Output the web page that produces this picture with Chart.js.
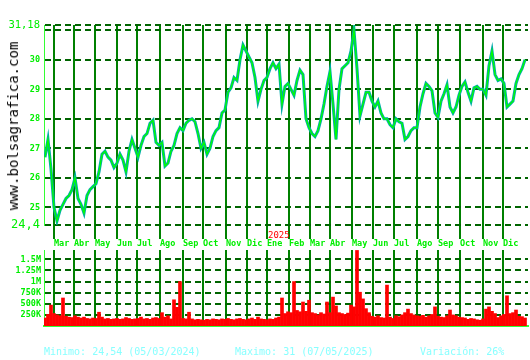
<!DOCTYPE html>
<html>
<head>
<meta charset="utf-8">
<script src="https://cdn.jsdelivr.net/npm/chart.js@4/dist/chart.umd.min.js"></script>
<style>
body { margin:0; background:#fff; width:530px; height:360px; position:relative; overflow:hidden; }
canvas { position:absolute; left:0; }
#price { top:0; }
#volume { top:240px; }
.web { position:absolute; left:13px; top:126px; transform:translate(-50%,-50%) rotate(-90deg); font:14px 'DejaVu Sans Mono', monospace; white-space:nowrap; color:#000; }
.stat { position:absolute; top:346px; font:10px 'DejaVu Sans Mono', monospace; color:#88ffff; white-space:pre; }
</style>
</head>
<body>
<canvas id="price" width="530" height="250"></canvas>
<canvas id="volume" width="530" height="100"></canvas>
<div class="web">www.bolsagrafica.com</div>
<div class="stat" style="left:44px">Minimo: 24,54 (05/03/2024)</div>
<div class="stat" style="left:235px">Maximo: 31 (07/05/2025)</div>
<div class="stat" style="left:420px">Variación: 26%</div>
<script>
// data: one sample every 3 trading days, starting mid Feb 2024
const step = 3

const closes = [
  26.7, 27.3, 26.3, 25.0, 24.54, 24.9, 25.1, 25.3, 25.4, 25.6,
  26.0, 25.3, 25.1, 24.8, 25.4, 25.6, 25.7, 25.8, 26.2, 26.8,
  26.9, 26.7, 26.6, 26.35, 26.5, 26.8, 26.6, 26.2, 26.9, 27.3,
  27.0, 26.7, 27.1, 27.4, 27.5, 27.85, 27.95, 27.2, 27.1, 27.2,
  26.4, 26.5, 26.9, 27.1, 27.5, 27.7, 27.6, 27.85, 27.95, 28.0,
  27.9, 27.5, 27.0, 27.2, 26.8, 27.0, 27.4, 27.6, 27.7, 28.2,
  28.3, 28.9, 29.05, 29.4, 29.3, 30.0, 30.5, 30.3, 30.1, 29.9,
  29.4, 28.6, 29.0, 29.3, 29.4, 29.7, 29.9, 29.7, 29.85, 28.5,
  29.1, 29.2, 29.0, 28.8, 29.3, 29.65, 29.5, 28.0, 27.7, 27.5,
  27.4, 27.6, 28.0, 28.5, 29.1, 29.6, 28.5, 27.3, 29.0, 29.7,
  29.8, 29.9, 30.3, 31.0, 29.7, 28.1, 28.5, 28.9, 28.9, 28.6,
  28.4, 28.6, 28.2, 28.0, 28.0, 27.8, 27.7, 28.0, 27.9, 27.85,
  27.3, 27.4, 27.6, 27.7, 27.7, 28.4, 28.85, 29.2, 29.1, 28.95,
  28.2, 28.05, 28.6, 28.85, 29.15, 28.4, 28.2, 28.4, 28.8, 29.1,
  29.25, 28.9, 28.6, 29.05, 29.1, 29.0, 29.0, 28.8, 29.8, 30.3,
  29.5, 29.3, 29.35, 29.2, 28.4, 28.5, 28.6, 29.2, 29.5, 29.7,
  30.0
]

// volume in thousands
const volumes = [
  180, 260, 470, 280, 250, 230, 630, 220, 200, 190,
  230, 200, 180, 200, 170, 160, 180, 170, 310, 200,
  160, 170, 150, 160, 170, 150, 160, 190, 170, 150,
  160, 170, 200, 160, 170, 150, 180, 190, 170, 300,
  200, 230, 160, 590, 420, 1000, 170, 160, 310, 160,
  140, 150, 140, 130, 150, 140, 160, 150, 140, 160,
  150, 170, 150, 140, 160, 170, 150, 140, 160, 180,
  150, 200, 160, 150, 140, 160, 150, 180, 200, 630,
  280, 320, 300, 1000, 350, 320, 540, 330, 580, 300,
  280, 250, 300, 270, 540, 300, 650, 450, 300, 280,
  260, 290, 470, 430, 1700, 760, 610, 390, 300, 220,
  200, 230, 190, 180, 920, 200, 170, 230, 210, 250,
  300, 380, 280, 250, 230, 220, 240, 200, 230, 260,
  430, 220, 200, 190, 230, 360, 250, 230, 200, 190,
  180, 150, 170, 160, 140, 130, 160, 380, 430, 330,
  280, 190, 230, 260, 680, 280, 300, 360, 220, 210,
  180
]

// trading day index where each month starts
const monthStartDay = [9, 29, 50, 72, 92, 115, 138, 158, 181, 202, 222, 244, 265, 285, 307, 328, 349, 372, 393, 415, 438, 458]
const monthLabels = ['Mar','Abr','May','Jun','Jul','Ago','Sep','Oct','Nov','Dic','Ene','Feb','Mar','Abr','May','Jun','Jul','Ago','Sep','Oct','Nov','Dic']
const yearMark = { month: 10, text: '2025' }

const priceTicks = [24.4, 25, 26, 27, 28, 29, 30, 31, 31.18]
const priceMin = 24.4
const priceMax = 31.18

const volTicks = [250, 500, 750, 1000, 1250, 1500]
const volTickLabels = ['250K', '500K', '750K', '1M', '1.25M', '1.5M']
const volMax = 1710

// styles
const dashGreen = '#006400'
const monthGreen = '#008000'
const labelGreen = '#00ee00'
const axisGreen = '#33ff33'
const mono = 'DejaVu Sans Mono'

const closePts = closes.map((v, i) => ({ x: i * step, y: v }))
const volPts = volumes.map((v, i) => ({ x: i * step, y: v }))
const dayMin = -1
const dayMax = 483

const monthAxis = {
  type: 'linear', min: dayMin, max: dayMax, offset: false,
  afterBuildTicks: s => { s.ticks = monthStartDay.map(v => ({ value: v })) },
}

const yearPlugin = {
  id: 'year',
  afterDraw(chart) {
    const x = chart.scales.x.getPixelForValue(monthStartDay[yearMark.month])
    const ctx = chart.ctx
    ctx.save()
    ctx.fillStyle = '#ff0000'
    ctx.font = '9px ' + mono
    ctx.textBaseline = 'middle'
    ctx.fillText(yearMark.text, x + 1, 236)
    ctx.restore()
  }
}

new Chart(document.getElementById('price'), {
  type: 'line',
  data: {
    datasets: [
      { data: closePts, borderColor: '#00ff00', borderWidth: 1.3, pointRadius: 0, order: 0 },
      { data: closePts, borderColor: '#00aaaa', borderWidth: 3, pointRadius: 0, order: 1 },
    ]
  },
  options: {
    responsive: false, animation: false,
    layout: { padding: { top: 25, right: 2, left: 0, bottom: 0 } },
    plugins: { legend: { display: false }, tooltip: { enabled: false } },
    scales: {
      x: Object.assign({}, monthAxis, {
        afterFit: s => { s.height = 25 },
        grid: { color: monthGreen, lineWidth: 2, tickLength: 14 },
        border: { display: false },
        ticks: {
          autoSkip: false, maxRotation: 0, align: 'start', padding: 0, color: labelGreen,
          font: { family: mono, size: 8.5, weight: 'bold' },
          callback: (v, i) => monthLabels[i]
        }
      }),
      y: {
        min: priceMin, max: priceMax,
        afterBuildTicks: s => { s.ticks = priceTicks.map(v => ({ value: v })) },
        afterFit: s => { s.width = 44 },
        grid: { color: dashGreen, lineWidth: 2, drawTicks: false },
        border: { color: axisGreen, width: 1, dash: [6, 4] },
        ticks: {
          padding: 4, color: labelGreen,
          font: c => {
            if (c.tick && c.tick.value === priceMax) return { family: mono, size: 10.5 }
            if (c.tick && c.tick.value === priceMin) return { family: mono, size: 12 }
            return { family: mono, size: 8.5, weight: 'bold' }
          },
          callback: v => v === 31 ? '' : String(v).replace('.', ',')
        }
      }
    }
  },
  plugins: [yearPlugin]
})

new Chart(document.getElementById('volume'), {
  type: 'bar',
  data: {
    datasets: [{ data: volPts, backgroundColor: '#ff0000', borderWidth: 0, barThickness: 3 }]
  },
  options: {
    responsive: false, animation: false,
    layout: { padding: { top: 10, right: 2, left: 0, bottom: 0 } },
    plugins: { legend: { display: false }, tooltip: { enabled: false } },
    scales: {
      x: Object.assign({}, monthAxis, {
        afterFit: s => { s.height = 14 },
        grid: { color: monthGreen, lineWidth: 2, drawTicks: false, offset: false },
        border: { color: axisGreen, width: 2 },
        ticks: { display: false }
      }),
      y: {
        min: 0, max: volMax,
        afterBuildTicks: s => { s.ticks = volTicks.map(v => ({ value: v })) },
        afterFit: s => { s.width = 44 },
        grid: { color: dashGreen, lineWidth: 2, drawTicks: false },
        border: { color: axisGreen, width: 1, dash: [6, 4] },
        ticks: {
          padding: 3, color: labelGreen,
          font: { family: mono, size: 8.5, weight: 'bold' },
          callback: (v, i) => volTickLabels[i]
        }
      }
    }
  }
})
</script>
</body>
</html>
